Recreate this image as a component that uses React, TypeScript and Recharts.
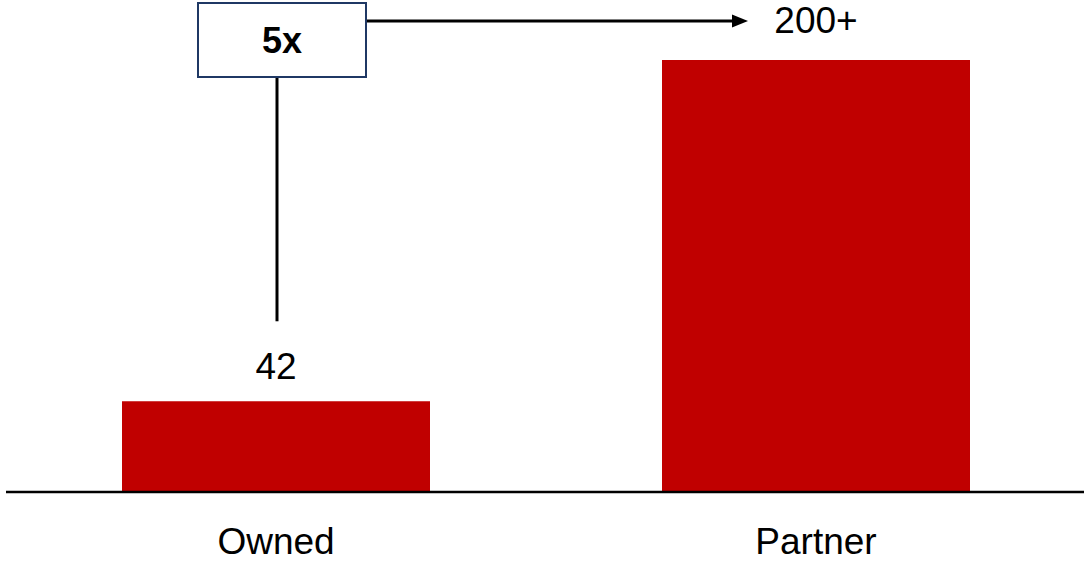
import React from 'react';
import { BarChart, Bar, XAxis, YAxis, LabelList, ReferenceLine } from 'recharts';

const categories = ['Owned', 'Partner'];
const values = [42, 200];
const valueLabels = ['42', '200+'];
const multipleLabel = '5x';

const data = categories.map((c, i) => ({ name: c, value: values[i], label: valueLabels[i] }));

const FONT = '"Liberation Sans", Arial, sans-serif';
const labelGaps = [22, 27];

const ValueLabel = (props: any) => {
  const { x, y, width, index } = props;
  return (
    <text
      x={x + width / 2}
      y={y - labelGaps[index]}
      textAnchor="middle"
      fontFamily={FONT}
      fontSize={37}
      fill="#000"
    >
      {valueLabels[index]}
    </text>
  );
};

const CatTick = (props: any) => {
  const { x, y, payload } = props;
  return (
    <text x={x} y={y + 62} textAnchor="middle" fontFamily={FONT} fontSize={37} fill="#000">
      {payload.value}
    </text>
  );
};

const Annotation = (props: any) => {
  const { x1, y1, x2, y2 } = props;
  const boxLeft = x1 - 78;
  const boxTop = y2 - 57;
  const boxW = 168;
  const boxH = 74;
  const arrowY = y2 - 39;
  const arrowEnd = x2 - 68;
  return (
    <g>
      <line x1={x1 + 1} x2={x1 + 1} y1={y1 - 80} y2={boxTop + boxH} stroke="#000" strokeWidth={3} />
      <line x1={boxLeft + boxW} x2={arrowEnd - 14} y1={arrowY} y2={arrowY} stroke="#000" strokeWidth={2.8} />
      <polygon
        points={`${arrowEnd - 16},${arrowY - 6.5} ${arrowEnd},${arrowY} ${arrowEnd - 16},${arrowY + 6.5}`}
        fill="#000"
      />
      <rect x={boxLeft} y={boxTop} width={boxW} height={boxH} fill="#fff" stroke="#1F3864" strokeWidth={2} />
      <text
        x={boxLeft + boxW / 2}
        y={boxTop + boxH / 2 + 13}
        textAnchor="middle"
        fontFamily={FONT}
        fontSize={36}
        fontWeight="bold"
        fill="#000"
      >
        {multipleLabel}
      </text>
    </g>
  );
};

export default function App() {
  return (
    <div style={{ position: 'absolute', left: 0, top: 0, width: 1084, height: 561, overflow: 'hidden', background: '#fff' }}>
      <BarChart width={1086} height={561} data={data} margin={{ top: 60, right: 0, bottom: 0, left: 6 }}>
        <XAxis
          dataKey="name"
          height={69}
          tickLine={false}
          tickSize={0}
          tickMargin={0}
          axisLine={{ stroke: '#000', strokeWidth: 2.5 }}
          tick={<CatTick />}
          interval={0}
        />
        <YAxis hide domain={[0, 200]} />
        <Bar dataKey="value" fill="#C00000" barSize={308} isAnimationActive={false}>
          <LabelList dataKey="label" content={<ValueLabel />} />
        </Bar>
        <ReferenceLine
          segment={[
            { x: categories[0], y: values[0] },
            { x: categories[1], y: values[1] },
          ]}
          ifOverflow="visible"
          shape={<Annotation />}
        />
      </BarChart>
    </div>
  );
}
